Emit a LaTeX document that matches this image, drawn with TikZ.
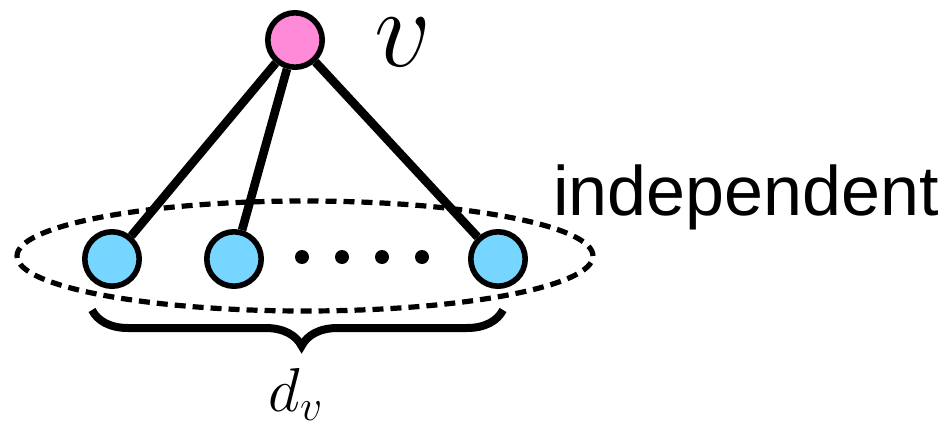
\documentclass[tikz,border=0pt]{standalone}
\usepackage{fix-cm}
\usepackage{fontspec}
\newfontfamily\helv{Liberation Sans}
\usepackage{tikz}
\usetikzlibrary{positioning,shapes.geometric,decorations.pathreplacing}
\definecolor{carnation}{HTML}{FF8AD8}
\definecolor{sky}{HTML}{76D6FF}

\begin{document}
\begin{tikzpicture}[
  x=0.5pt,y=-0.5pt,
  vert/.style={circle,draw=black,line width=2.8pt,inner sep=0pt,minimum size=27.2pt},
  edge/.style={line width=4.3pt},
  dot/.style={circle,fill=black,inner sep=0pt,minimum size=7pt},
  group/.style={ellipse,draw=black,line width=2.6pt,dash pattern=on 5.5pt off 3.5pt,minimum width=288pt,minimum height=55pt},
  brace/.style={decorate,decoration={brace,amplitude=18pt,aspect=0.49},line width=4pt},
  lbl/.style={inner sep=0pt}
]
\useasboundingbox (0,0) rectangle (949,423);
\node[group] (indep) at (305,256) {};
\node[vert,fill=carnation] (v) at (295,40) {};
\node[vert,fill=sky] (u1) at (112,259) {};
\node[vert,fill=sky] (u2) at (234,259) {};
\node[vert,fill=sky] (ud) at (498,259) {};
\foreach \i/\x in {1/302,2/342,3/382,4/422}
  \node[dot] (dot\i) at (\x,257) {};
\draw[edge] (v) -- (u1);
\draw[edge] (v) -- (u2);
\draw[edge] (v) -- (ud);
\node[lbl] (vlabel) at (403,42) {\fontsize{56}{60}\selectfont$v$};
\node[lbl,anchor=base] (indlabel) at (746,215) {\helv\fontsize{35}{40}\selectfont independent};
\coordinate (bl) at (92,310);
\coordinate (br) at (503,310);
\draw[brace] (br) -- (bl);
\node[lbl,anchor=base] (deg) at (296,411) {\fontsize{31}{34}\selectfont$d_v$};
\end{tikzpicture}
\end{document}
